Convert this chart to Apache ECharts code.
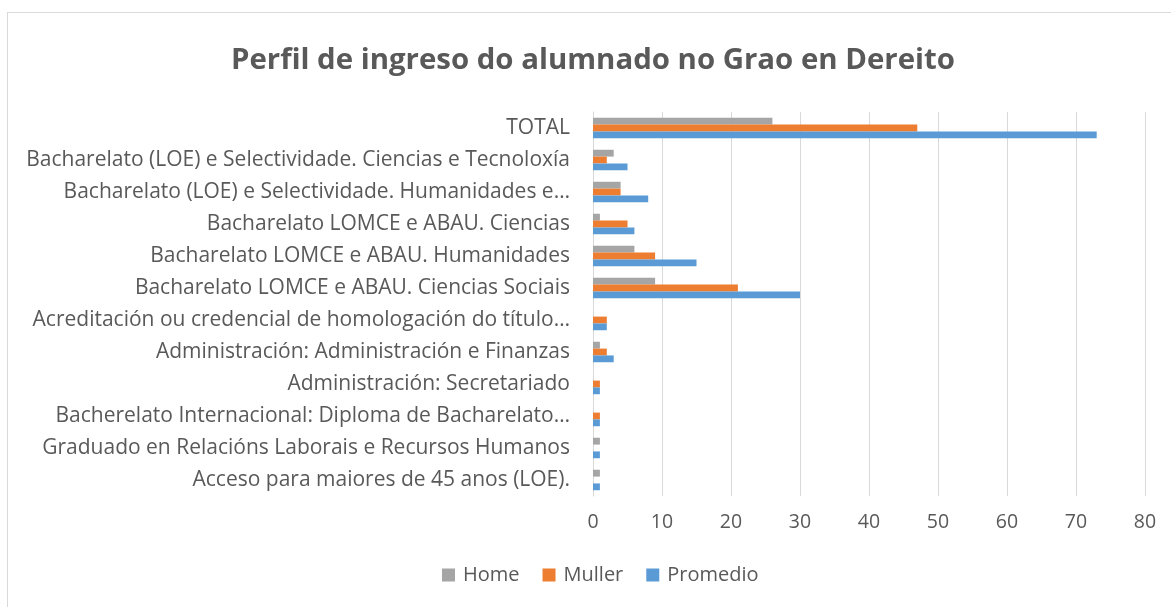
<!DOCTYPE html>
<html>
<head>
<meta charset="utf-8">
<script src="https://cdn.jsdelivr.net/npm/echarts@6/dist/echarts.min.js"></script>
<style>
  html, body { margin: 0; padding: 0; background: #fff; }
  #chart { width: 1171px; height: 607px; }
  #frame { position: absolute; left: 7px; top: 12px; width: 1200px; height: 700px; border: 1px solid #d9d9d9; pointer-events: none; }
</style>
</head>
<body>
<div id="chart"></div>
<div id="frame"></div>
<script>
// categorías de abaixo cara arriba (eixo Y de ECharts)
const categories = [
  'Acceso para maiores de 45 anos (LOE).',
  'Graduado en Relacións Laborais e Recursos Humanos',
  'Bacherelato Internacional: Diploma de Bacharelato…',
  'Administración: Secretariado',
  'Administración: Administración e Finanzas',
  'Acreditación ou credencial de homologación do título…',
  'Bacharelato LOMCE e ABAU. Ciencias Sociais',
  'Bacharelato LOMCE e ABAU. Humanidades',
  'Bacharelato LOMCE e ABAU. Ciencias',
  'Bacharelato (LOE) e Selectividade. Humanidades e…',
  'Bacharelato (LOE) e Selectividade. Ciencias e Tecnoloxía',
  'TOTAL'
];
const home     = [1, 1, 0, 0, 1, 0, 9, 6, 1, 4, 3, 26];
const muller   = [0, 0, 1, 1, 2, 2, 21, 9, 5, 4, 2, 47];
const promedio = [1, 1, 1, 1, 3, 2, 30, 15, 6, 8, 5, 73];
const xTicks = { min: 0, max: 80, interval: 10 };

const font = 'Open Sans';
const txt = '#595959';

const chart = echarts.init(document.getElementById('chart'));
chart.setOption({
  animation: false,
  textStyle: { fontFamily: font },
  title: {
    text: 'Perfil de ingreso do alumnado no Grao en Dereito',
    left: 226,
    top: 41,
    textStyle: { fontFamily: font, fontSize: 29.4, fontWeight: 'bold', color: txt }
  },
  legend: {
    data: ['Home', 'Muller', 'Promedio'],
    bottom: 17,
    left: 437,
    itemWidth: 13,
    itemHeight: 13,
    itemGap: 23,
    icon: 'rect',
    textStyle: { fontFamily: font, fontSize: 20, color: txt, padding: [0, 0, 0, 3] }
  },
  grid: { left: 593, right: 26, top: 112, bottom: 111, containLabel: false },
  xAxis: {
    type: 'value',
    min: xTicks.min,
    max: xTicks.max,
    interval: xTicks.interval,
    axisLine: { show: false },
    axisTick: { show: false },
    axisLabel: { margin: 16, fontSize: 19.5, color: txt, fontFamily: font },
    splitLine: { lineStyle: { color: '#d9d9d9', width: 1 } }
  },
  yAxis: {
    type: 'category',
    data: categories,
    axisLine: { show: true, lineStyle: { color: '#d9d9d9' } },
    axisTick: { show: false },
    axisLabel: { margin: 23, fontSize: 21, color: txt, fontFamily: font }
  },
  series: [
    { name: 'Home', type: 'bar', data: home, itemStyle: { color: '#a5a5a5' }, barGap: '0%', barCategoryGap: '36%' },
    { name: 'Muller', type: 'bar', data: muller, itemStyle: { color: '#ed7d31' } },
    { name: 'Promedio', type: 'bar', data: promedio, itemStyle: { color: '#5b9bd5' } }
  ]
});
</script>
</body>
</html>
